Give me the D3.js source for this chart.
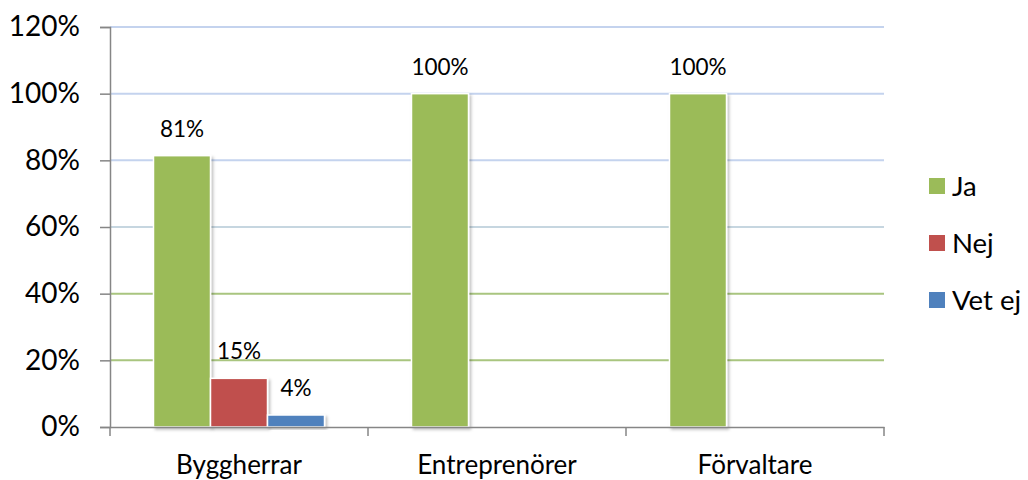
<!DOCTYPE html>
<html><head><meta charset="utf-8">
<script src="https://cdn.jsdelivr.net/npm/d3@7"></script>
<style>body{margin:0;background:#fff}svg{display:block}text{font-family:Lato,"Noto Sans",sans-serif;fill:#000}</style>
</head><body><svg id="c" width="1028" height="480"></svg>
<script>
const categories = ["Byggherrar", "Entreprenörer", "Förvaltare"];
const seriesNames = ["Ja", "Nej", "Vet ej"];
const ja = [0.814, 1.0, 1.0];
const nej = [0.146, null, null];
const vetEj = [0.036, null, null];
const yTicks = [0, 0.2, 0.4, 0.6, 0.8, 1.0, 1.2];
const colors = ["#9BBB59", "#C0504D", "#4F81BD"];
const gridColors = ["#a9c57f", "#a9c57f", "#a9c57f", "#c6d6e0", "#c4d3ee", "#c4d3ee", "#c4d3ee"];

const series = [ja, nej, vetEj];
const svg = d3.select("#c");
const mLeft = 110, mRight = 884, mTop = 27, mBottom = 427;
const x = d3.scaleBand().domain(categories).range([mLeft, mRight]).paddingInner(0).paddingOuter(0);
const inner = d3.scaleBand().domain(seriesNames).range([0, x.bandwidth()]).paddingInner(0).paddingOuter(0.763);
const y = d3.scaleLinear().domain([0, 1.2]).range([mBottom, mTop]);
const fmt = d3.format(".0%");

const defs = svg.append("defs");
const f = defs.append("filter").attr("id","sh").attr("x","-20%").attr("y","-20%").attr("width","140%").attr("height","140%");
f.append("feDropShadow").attr("dx",2).attr("dy",2).attr("stdDeviation",1.5).attr("flood-color","#000").attr("flood-opacity",0.25);

// gridlines
svg.append("g").selectAll("line").data(yTicks.slice(1)).join("line")
  .attr("x1", mLeft).attr("x2", mRight)
  .attr("y1", d => y(d)).attr("y2", d => y(d))
  .attr("stroke", (d,i) => gridColors[i+1]).attr("stroke-width", 2);

// y axis
const yAxis = d3.axisLeft(y).tickValues(yTicks).tickFormat(fmt).tickSize(10).tickPadding(20);
const gy = svg.append("g").attr("transform", `translate(${mLeft},0)`).call(yAxis);
gy.select(".domain").attr("stroke","#868686").attr("stroke-width",1.5);
gy.selectAll(".tick line").attr("stroke","#868686").attr("stroke-width",1.5);
gy.selectAll(".tick text").attr("font-size", 28).attr("font-family","Lato").attr("fill","#000");

// bars
const groups = svg.append("g").selectAll("g").data(categories).join("g")
  .attr("transform", d => `translate(${x(d)},0)`);
groups.each(function(cat, ci){
  const g = d3.select(this);
  seriesNames.forEach((s, si) => {
    const v = series[si][ci];
    if (v == null) return;
    g.append("rect")
      .attr("x", inner(s)).attr("width", inner.bandwidth())
      .attr("y", y(v)).attr("height", y(0) - y(v))
      .attr("fill", colors[si]).attr("stroke","#fff").attr("stroke-width",1.5)
      .attr("filter","url(#sh)");
    g.append("text")
      .attr("x", inner(s) + inner.bandwidth()/2).attr("y", y(v) - 19)
      .attr("text-anchor","middle").attr("font-size", 22.5).text(fmt(v));
  });
});

// x axis
const xAxis = d3.axisBottom(x).tickSize(0).tickPadding(29);
const gx = svg.append("g").attr("transform", `translate(0,${mBottom})`).call(xAxis);
gx.select(".domain").attr("stroke","#868686").attr("stroke-width",1.5);
gx.selectAll(".tick text").attr("font-size", 26).attr("font-family","Lato").attr("fill","#000");
gx.append("g").selectAll("line").data([...categories.map(c => x(c)), mRight]).join("line")
  .attr("x1", d => d).attr("x2", d => d).attr("y1", 0).attr("y2", 9)
  .attr("stroke","#868686").attr("stroke-width",1.5);

// legend
const lg = svg.append("g").selectAll("g").data(seriesNames).join("g")
  .attr("transform", (d,i) => `translate(929,${186 + i*57})`);
lg.append("rect").attr("x",0).attr("y",-8).attr("width",16).attr("height",16).attr("fill",(d,i)=>colors[i]);
lg.append("text").attr("x",23).attr("y",0).attr("dy","0.35em").attr("font-size",27.5).text(d=>d);
</script></body></html>
